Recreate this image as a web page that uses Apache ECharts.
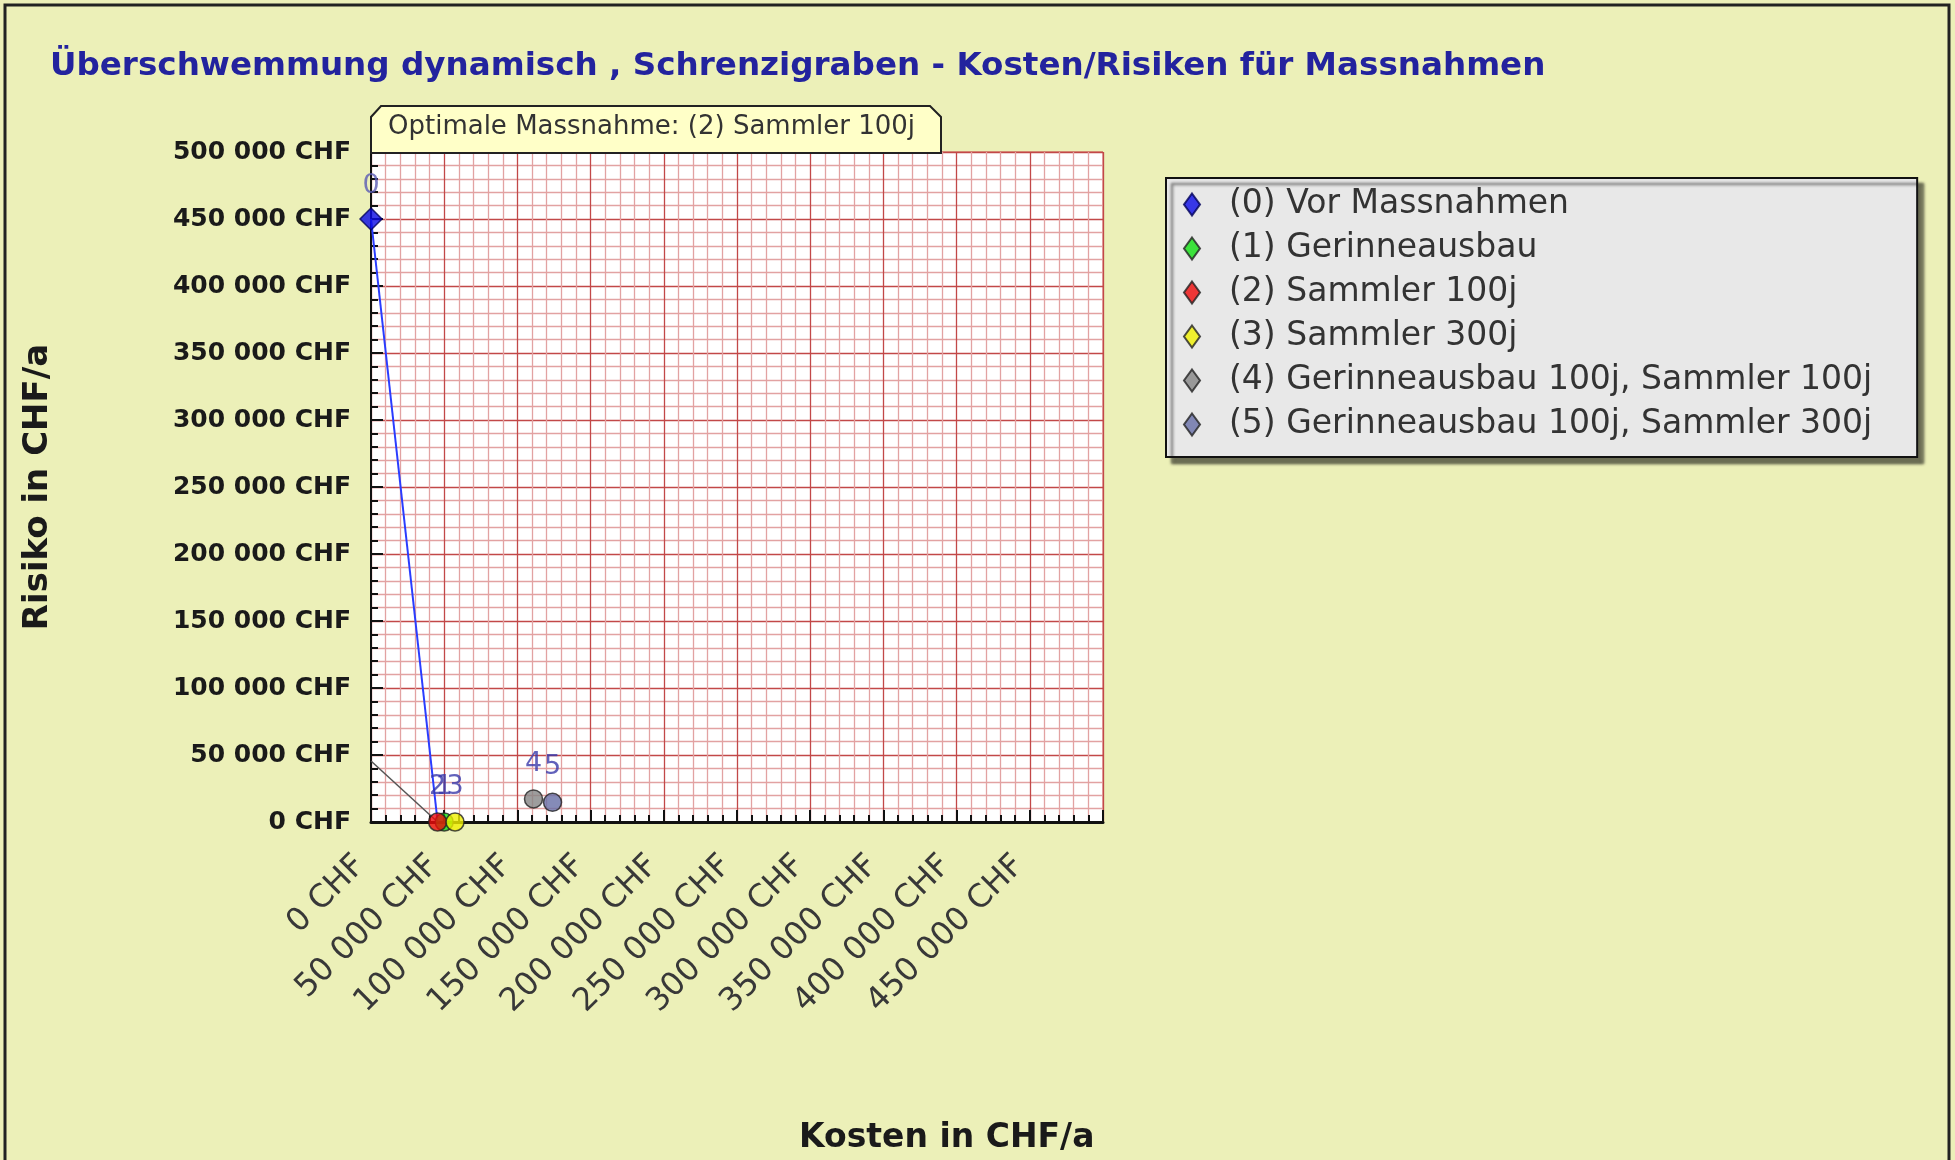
<!DOCTYPE html>
<html>
<head>
<meta charset="utf-8">
<script src="https://cdn.jsdelivr.net/npm/echarts@6/dist/echarts.min.js"></script>
<style>
html,body{margin:0;padding:0;background:#ecf0b8;}
#chart{width:1955px;height:1160px;}
</style>
</head>
<body>
<div id="chart"></div>
<script>
// ---- data ----
const measureIds = ['0', '1', '2', '3', '4', '5'];
const measureNames = [
  '(0) Vor Massnahmen',
  '(1) Gerinneausbau',
  '(2) Sammler 100j',
  '(3) Sammler 300j',
  '(4) Gerinneausbau 100j, Sammler 100j',
  '(5) Gerinneausbau 100j, Sammler 300j'
];
const costs = [0, 50000, 45500, 57400, 111000, 124000];   // Kosten in CHF/a
const risks = [450000, 0, 0, 0, 17200, 14700];           // Risiko in CHF/a
const frontier = [0, 2];        // efficient frontier (indices)
const optimum = 2;              // optimal measure index
const xTickLabels = ['0 CHF', '50 000 CHF', '100 000 CHF', '150 000 CHF', '200 000 CHF',
  '250 000 CHF', '300 000 CHF', '350 000 CHF', '400 000 CHF', '450 000 CHF'];
const yTickLabels = ['0 CHF', '50 000 CHF', '100 000 CHF', '150 000 CHF', '200 000 CHF',
  '250 000 CHF', '300 000 CHF', '350 000 CHF', '400 000 CHF', '450 000 CHF', '500 000 CHF'];

// ---- styles ----
const colors = ['#0a0ae6', '#10e010', '#ee0a0a', '#f0f000', '#858585', '#676ea6'];
const symbols = ['diamond', 'circle', 'circle', 'circle', 'circle', 'circle'];
const symbolSizes = [22, 18, 18, 18, 18, 18];
const FONT = 'DejaVu Sans';

const chart = echarts.init(document.getElementById('chart'));

const optTotal = costs[optimum] + risks[optimum];

const series = [
  {
    type: 'line', silent: true, symbol: 'none', z: 3,
    data: frontier.map(i => [costs[i], risks[i]]),
    lineStyle: { color: '#2a3cff', width: 2 }
  },
  {
    type: 'line', silent: true, symbol: 'none', z: 3,
    data: [[0, optTotal], [optTotal, 0]],
    lineStyle: { color: '#555555', width: 1.5 }
  }
];
measureNames.forEach((n, i) => {
  series.push({
    type: 'scatter', name: n, z: 4,
    symbol: symbols[i], symbolSize: symbolSizes[i],
    data: [[costs[i], risks[i]]],
    itemStyle: { color: colors[i], borderColor: i === 0 ? '#00005a' : '#222', borderWidth: 1.5 },
    label: {
      show: true, position: 'top', distance: i === 0 ? 8 : 12,
      formatter: () => measureIds[i],
      fontFamily: FONT, fontSize: 27, color: i === 0 ? '#5a5ab4' : '#3a3aaa'
    }
  });
});

const option = {
  backgroundColor: '#ecf0b8',
  animation: false,
  title: {
    text: 'Überschwemmung dynamisch , Schrenzigraben - Kosten/Risiken für Massnahmen',
    left: 45, top: 45,
    textStyle: { fontFamily: FONT, fontSize: 32.6, fontWeight: 'bold', color: '#23239e' }
  },
  legend: {
    orient: 'vertical', left: 1166, top: 178,
    data: measureNames.map(n => ({ name: n, icon: 'diamond' })),
    itemWidth: 16, itemHeight: 22, itemGap: 11,
    backgroundColor: '#e8e8e8', borderColor: '#111', borderWidth: 2,
    padding: [10, 45, 16, 17],
    shadowColor: 'rgba(0,0,0,0.55)', shadowOffsetX: 6, shadowOffsetY: 6, shadowBlur: 3,
    textStyle: { fontFamily: FONT, fontSize: 33, color: '#333', lineHeight: 31, padding: [0, 0, 0, 24] }
  },
  grid: {
    left: 371, top: 152, width: 732, height: 670,
    show: true, backgroundColor: '#ffffff', borderColor: '#c84a4a', borderWidth: 1
  },
  xAxis: {
    type: 'value', min: 0, max: 500000, interval: 50000,
    axisLine: { show: true, lineStyle: { color: '#111', width: 3 } },
    axisTick: { show: true, inside: true, length: 12, lineStyle: { color: '#111', width: 2 } },
    minorTick: { show: true, splitNumber: 5, length: 7, lineStyle: { color: '#111', width: 2 } },
    splitLine: { show: true, lineStyle: { color: '#c24848', width: 1.3 } },
    minorSplitLine: { show: true, lineStyle: { color: '#e2a2a2', width: 1.3 } },
    axisLabel: {
      rotate: 45, margin: 28, showMaxLabel: false, padding: [0, 15, 0, 0],
      fontFamily: FONT, fontSize: 32, color: '#383838',
      formatter: v => xTickLabels[Math.round(v / 50000)] || ''
    }
  },
  yAxis: {
    type: 'value', min: 0, max: 500000, interval: 50000,
    name: 'Risiko in CHF/a', nameLocation: 'middle', nameGap: 316, nameRotate: 90,
    nameTextStyle: { fontFamily: FONT, fontSize: 34, fontWeight: 'bold', color: '#1a1a1a' },
    axisLine: { show: true, lineStyle: { color: '#111', width: 2 } },
    axisTick: { show: true, inside: true, length: 12, lineStyle: { color: '#111', width: 2 } },
    minorTick: { show: true, splitNumber: 5, length: 7, lineStyle: { color: '#111', width: 2 } },
    splitLine: { show: true, lineStyle: { color: '#c24848', width: 1.3 } },
    minorSplitLine: { show: true, lineStyle: { color: '#e2a2a2', width: 1.3 } },
    axisLabel: {
      margin: 20, fontFamily: FONT, fontSize: 25, fontWeight: 'bold', color: '#1a1a1a',
      formatter: v => yTickLabels[Math.round(v / 50000)]
    }
  },
  graphic: [
    {
      type: 'polygon', z: 10, silent: true,
      shape: { points: [[371, 153], [371, 117], [381, 106], [930, 106], [941, 117], [941, 153]] },
      style: { fill: '#ffffc8', stroke: '#222', lineWidth: 2 }
    },
    {
      type: 'text', z: 11, silent: true, left: 388, top: 114,
      style: {
        text: 'Optimale Massnahme: ' + measureNames[optimum],
        fontFamily: FONT, fontSize: 26, fill: '#333'
      }
    },
    {
      type: 'text', z: 11, silent: true, left: 799, top: 1122,
      style: { text: 'Kosten in CHF/a', fontFamily: FONT, fontSize: 33, fontWeight: 'bold', fill: '#1a1a1a' }
    },
    {
      type: 'rect', z: 20, silent: true,
      shape: { x: 5, y: 5, width: 1944, height: 1200 },
      style: { fill: null, stroke: '#222', lineWidth: 3 }
    }
  ],
  series: series
};
chart.setOption(option);
</script>
</body>
</html>
